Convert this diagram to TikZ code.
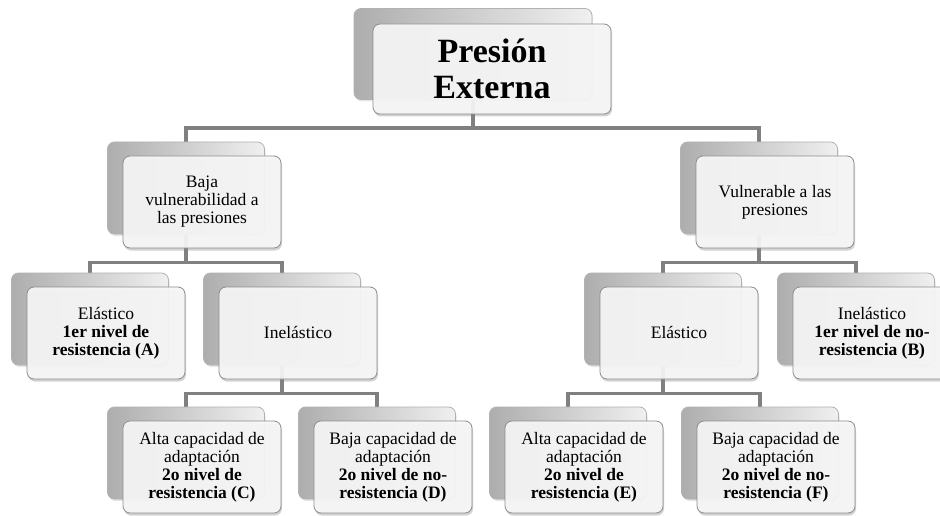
\documentclass[tikz,border=0pt]{standalone}
\usepackage{fontspec}
\setmainfont{Liberation Serif}
\usepackage{tikz}
\usetikzlibrary{shadows, backgrounds, calc}
\tikzset{
    backbox/.style={
        rectangle,
        rounded corners=7pt,
        draw=black!30,
        line width=0.8pt,
        left color=black!32,
        right color=black!6,
        minimum height=92pt,
        minimum width=157pt,
        drop shadow={opacity=0.2, shadow xshift=1pt, shadow yshift=-2pt}
    },
    frontbox/.style={
        rectangle,
        rounded corners=7pt,
        draw=black!45,
        line width=0.8pt,
        fill=black!3,
        fill opacity=0.92,
        text opacity=1,
        minimum height=92pt,
        minimum width=158pt,
        inner sep=2pt,
        align=center,
        font=\fontsize{17.5}{18}\selectfont,
        drop shadow={opacity=0.35, shadow xshift=1pt, shadow yshift=-2.5pt}
    },
    topback/.style={backbox, minimum height=91pt, minimum width=238pt},
    topfront/.style={frontbox, minimum height=90pt, minimum width=238pt,
        font=\fontsize{34}{36}\selectfont\bfseries},
    branch/.style={draw=black!50, line width=3.5pt}
}

\begin{document}
\begin{tikzpicture}[x=1pt, y=-1pt]

    \path[use as bounding box] (0,0) rectangle (940,516);

    % Nodes
    \node[topback] (pe) at (473,54) {};
    \node[topfront] (pe-t) at ($(pe)+(19,15)$) {Presión\\Externa};

    \node[backbox] (baja) at (186,188) {};
    \node[frontbox] (baja-t) at ($(baja)+(16,14)$) {Baja\\vulnerabilidad a\\las presiones};
    \node[backbox] (vuln) at (759,188) {};
    \node[frontbox] (vuln-t) at ($(vuln)+(16,14)$) {Vulnerable a las\\presiones};

    \node[backbox] (elasA) at (90,319) {};
    \node[frontbox] (elasA-t) at ($(elasA)+(16,14)$) {Elástico\\\textbf{1er nivel de}\\\textbf{resistencia (A)}};
    \node[backbox] (inelI) at (282,319) {};
    \node[frontbox] (inelI-t) at ($(inelI)+(16,14)$) {Inelástico};
    \node[backbox] (elasD) at (663,319) {};
    \node[frontbox] (elasD-t) at ($(elasD)+(16,14)$) {Elástico};
    \node[backbox] (inelB) at (856,319) {};
    \node[frontbox] (inelB-t) at ($(inelB)+(16,14)$) {Inelástico\\\textbf{1er nivel de no-}\\\textbf{resistencia (B)}};

    \node[backbox] (altaC) at (186,453) {};
    \node[frontbox] (altaC-t) at ($(altaC)+(16,14)$) {Alta capacidad de\\adaptación\\\textbf{2o nivel de}\\\textbf{resistencia (C)}};
    \node[backbox] (bajaD) at (377,453) {};
    \node[frontbox] (bajaD-t) at ($(bajaD)+(16,14)$) {Baja capacidad de\\adaptación\\\textbf{2o nivel de no-}\\\textbf{resistencia (D)}};
    \node[backbox] (altaE) at (568,453) {};
    \node[frontbox] (altaE-t) at ($(altaE)+(16,14)$) {Alta capacidad de\\adaptación\\\textbf{2o nivel de}\\\textbf{resistencia (E)}};
    \node[backbox] (bajaF) at (760,453) {};
    \node[frontbox] (bajaF-t) at ($(bajaF)+(16,14)$) {Baja capacidad de\\adaptación\\\textbf{2o nivel de no-}\\\textbf{resistencia (F)}};

    % Connections
    \begin{scope}[on background layer]
        \fill[white] (0,0) rectangle (940,516);

        \path[branch] (pe.south) -- ++(0,28) -| (baja.north);
        \path[branch] (pe.south) -- ++(0,28) -| (vuln.north);

        \path[branch] (baja.south) -- ++(0,28) -| (elasA.north);
        \path[branch] (baja.south) -- ++(0,28) -| (inelI.north);
        \path[branch] (vuln.south) -- ++(0,28) -| (elasD.north);
        \path[branch] (vuln.south) -- ++(0,28) -| (inelB.north);

        \path[branch] (inelI.south) -- ++(0,28) -| (altaC.north);
        \path[branch] (inelI.south) -- ++(0,28) -| (bajaD.north);
        \path[branch] (elasD.south) -- ++(0,28) -| (altaE.north);
        \path[branch] (elasD.south) -- ++(0,28) -| (bajaF.north);
    \end{scope}

\end{tikzpicture}
\end{document}
